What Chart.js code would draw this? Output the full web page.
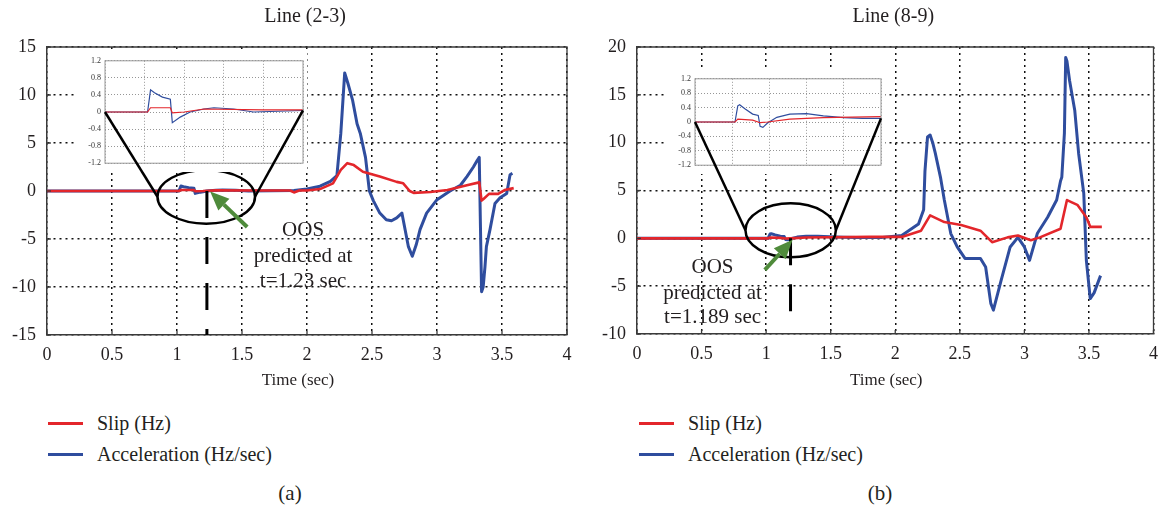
<!DOCTYPE html>
<html>
<head>
<meta charset="utf-8">
<title>Slip and acceleration</title>
<script src="https://cdn.jsdelivr.net/npm/chart.js@4.4.1/dist/chart.umd.min.js"></script>
<style>
  body { margin: 0; width: 1167px; height: 505px; background: #fff; position: relative; overflow: hidden;
         font-family: "Liberation Serif", "DejaVu Serif", serif; color: #231f20; }
  canvas { position: absolute; }
  .inset { background: #fff; z-index: 2; }
  .key { position: absolute; font-size: 20px; line-height: 20px; white-space: nowrap; }
  .key i { position: absolute; left: -49px; top: 9px; width: 35px; height: 3px; }
  .cap { position: absolute; top: 481px; width: 60px; font-size: 21px; line-height: 24px; text-align: center; }
</style>
</head>
<body>
<canvas id="chart-a" width="583" height="400" style="left:0;top:0"></canvas>
<canvas id="chart-b" width="584" height="400" style="left:583px;top:0"></canvas>
<canvas id="inset-a" class="inset" width="232" height="120" style="left:75px;top:52px"></canvas>
<canvas id="inset-b" class="inset" width="220" height="104" style="left:665px;top:70px"></canvas>

<div class="key" style="left:97px;top:413px"><i style="background:#e3262b"></i>Slip (Hz)</div>
<div class="key" style="left:97px;top:444px"><i style="background:#2f4d9e"></i>Acceleration (Hz/sec)</div>
<div class="key" style="left:688px;top:413px"><i style="background:#e3262b"></i>Slip (Hz)</div>
<div class="key" style="left:688px;top:444px"><i style="background:#2f4d9e"></i>Acceleration (Hz/sec)</div>
<div class="cap" style="left:260px">(a)</div>
<div class="cap" style="left:850px">(b)</div>

<script>
/*====================================
data
=========================================*/
// line (2-3)
const slipTimeA = [0, 1.0, 1.015, 1.03, 1.13, 1.14, 1.2, 1.3, 1.6, 1.87, 1.9, 1.94, 2.0, 2.1, 2.2, 2.26, 2.31, 2.36, 2.43, 2.56,
    2.69, 2.74, 2.79, 2.82, 2.95, 3.08, 3.23, 3.325, 3.343, 3.36, 3.4, 3.47, 3.52, 3.59];
const slipA = [0, 0, 0, 0.1, 0.1, -0.02, 0, 0.07, 0.05, 0.05, -0.15, 0.05, 0.05, 0.2, 0.8, 2.2, 2.9, 2.7, 2.0, 1.5,
    0.95, 0.8, 0, -0.2, -0.1, 0.1, 0.6, 0.9, -1.0, -0.8, -0.3, -0.3, 0.1, 0.3];
const accTimeA = [0, 1.0, 1.015, 1.03, 1.05, 1.09, 1.13, 1.14, 1.18, 1.23, 1.3, 1.35, 1.45, 1.55, 1.9, 2.0, 2.1, 2.18, 2.23, 2.26,
    2.29, 2.315, 2.35, 2.385, 2.41, 2.45, 2.48, 2.51, 2.56, 2.61, 2.65, 2.69, 2.73, 2.78, 2.81, 2.84, 2.87, 2.92, 3.0, 3.1,
    3.18, 3.23, 3.28, 3.31, 3.325, 3.343, 3.355, 3.369, 3.38, 3.408, 3.446, 3.485, 3.536, 3.562, 3.58];
const accA = [0, 0, 0, 0.52, 0.45, 0.35, 0.3, -0.25, -0.12, 0, 0.07, 0.1, 0.07, 0, 0.05, 0.2, 0.5, 1.0, 1.6, 6,
    12.3, 11.2, 9.5, 7, 6, 3.5, 0, -1, -2.3, -3, -3.1, -2.8, -2.3, -5.8, -6.8, -5.6, -4, -2.3, -0.9, 0,
    0.6, 1.5, 2.5, 3.2, 3.5, -10.5, -10, -7.9, -5.8, -4.0, -1.3, -0.7, -0.25, 1.7, 1.85];

// line (8-9)
const slipTimeB = [0, 1.0, 1.015, 1.03, 1.11, 1.15, 1.19, 1.31, 1.49, 1.8, 2.05, 2.2, 2.27, 2.38, 2.51, 2.66, 2.75, 2.87, 2.95, 3.05,
    3.12, 3.28, 3.33, 3.41, 3.48, 3.51, 3.6];
const slipB = [0, 0, 0, 0.08, 0.05, -0.02, 0, 0.08, 0.12, 0.15, 0.15, 0.8, 2.4, 1.7, 1.4, 0.8, -0.4, 0.1, 0.3, -0.2,
    0.1, 1.0, 4, 3.5, 2.2, 1.2, 1.2];
const accTimeB = [0, 1.0, 1.015, 1.03, 1.04, 1.07, 1.11, 1.14, 1.15, 1.165, 1.19, 1.24, 1.31, 1.4, 1.49, 1.6, 1.7, 1.9, 2.05, 2.18,
    2.22, 2.23, 2.25, 2.27, 2.29, 2.31, 2.35, 2.38, 2.43, 2.48, 2.54, 2.66, 2.7, 2.74, 2.76, 2.82, 2.89, 2.95, 3.0, 3.04,
    3.1, 3.18, 3.25, 3.28, 3.29, 3.31, 3.32, 3.33, 3.35, 3.39, 3.42, 3.46, 3.48, 3.51, 3.54, 3.59];
const accB = [0, 0, 0, 0.45, 0.48, 0.36, 0.22, 0.18, -0.12, -0.15, -0.03, 0.13, 0.22, 0.23, 0.17, 0.12, 0.1, 0.1, 0.3, 1.5,
    3, 7, 10.6, 10.8, 10, 8.9, 6.4, 4, 0.5, -0.9, -2.1, -2.1, -3, -6.8, -7.5, -4.4, -0.9, 0.1, -0.9, -2.3,
    0.5, 2.2, 4, 6, 6.4, 11, 18.9, 18.5, 16.5, 13.4, 8.9, 4.7, -2.3, -6.3, -5.7, -3.9];

const insetTicks = [-1.2, -0.8, -0.4, 0, 0.4, 0.8, 1.2];

/*====================================
styles + helpers
=========================================*/
const SERIF = '"Liberation Serif", "DejaVu Serif", serif';
const INK = '#231f20';
const RED = '#e3262b';
const BLUE = '#2f4d9e';
const GREEN = '#4f8b3b';

const pts = (t, v) => t.map((x, i) => ({ x: x, y: v[i] }));

// linear lookup of a series at time t
function valueAt(points, t) {
    for (let i = 1; i < points.length; i++) {
        if (points[i].x >= t) {
            const p = points[i - 1], q = points[i];
            return p.y + (q.y - p.y) * (t - p.x) / (q.x - p.x);
        }
    }
    return points[points.length - 1].y;
}

function toPage(chart, x, y) {
    const r = chart.canvas.getBoundingClientRect();
    return { x: r.left + x, y: r.top + y };
}

// the two lines joining the ring on the main plot to the zoomed inset
function zoomLinks(main, inset, ring) {
    const { x, y } = main.scales;
    const cx = x.getPixelForValue(ring.t), cy = y.getPixelForValue(ring.y);
    const rx = x.getPixelForValue(ring.t + ring.rt) - cx;
    const ia = inset.chartArea, iy = inset.scales.y;
    const endVal = valueAt(inset.data.datasets[1].data, inset.scales.x.max);
    return [
        [toPage(inset, ia.left, iy.getPixelForValue(0)), toPage(main, cx - rx, cy)],
        [toPage(inset, ia.right, iy.getPixelForValue(endVal)), toPage(main, cx + rx, cy)]
    ];
}

function drawLinks(chart, links) {
    const r = chart.canvas.getBoundingClientRect();
    const ctx = chart.ctx;
    ctx.save();
    ctx.strokeStyle = '#000';
    ctx.lineWidth = 2.5;
    links.forEach(([p, q]) => {
        ctx.beginPath();
        ctx.moveTo(p.x - r.left, p.y - r.top);
        ctx.lineTo(q.x - r.left, q.y - r.top);
        ctx.stroke();
    });
    ctx.restore();
}

function arrow(ctx, x0, y0, x1, y1) {
    const a = Math.atan2(y1 - y0, x1 - x0), head = 19, half = 8;
    const bx = x1 - head * Math.cos(a), by = y1 - head * Math.sin(a);
    ctx.strokeStyle = GREEN;
    ctx.fillStyle = GREEN;
    ctx.lineWidth = 4;
    ctx.beginPath();
    ctx.moveTo(x0, y0);
    ctx.lineTo(bx, by);
    ctx.stroke();
    ctx.beginPath();
    ctx.moveTo(x1, y1);
    ctx.lineTo(bx + half * Math.sin(a), by - half * Math.cos(a));
    ctx.lineTo(bx - half * Math.sin(a), by + half * Math.cos(a));
    ctx.closePath();
    ctx.fill();
}

// frame, title, axis title, OOS marker, ring, arrow and note
function figureMarks(cfg) {
    return {
        id: 'figureMarks',
        afterDraw(chart) {
            const { ctx, chartArea: a, scales: { x, y } } = chart;
            const px = t => x.getPixelForValue(t), py = v => y.getPixelForValue(v);
            const mid = (a.left + a.right) / 2;
            ctx.save();

            ctx.strokeStyle = '#3a3a3a';
            ctx.lineWidth = 1.3;
            ctx.beginPath();
            ctx.moveTo(a.left, a.top);
            ctx.lineTo(a.right, a.top);
            ctx.lineTo(a.right, a.bottom);
            ctx.stroke();
            x.ticks.forEach(tk => {
                ctx.beginPath();
                ctx.moveTo(px(tk.value), a.bottom);
                ctx.lineTo(px(tk.value), a.bottom - 4);
                ctx.stroke();
            });
            y.ticks.forEach(tk => {
                ctx.beginPath();
                ctx.moveTo(a.left, py(tk.value));
                ctx.lineTo(a.left + 4, py(tk.value));
                ctx.stroke();
            });

            ctx.fillStyle = INK;
            ctx.textAlign = 'center';
            ctx.textBaseline = 'middle';
            ctx.font = '20px ' + SERIF;
            ctx.fillText(cfg.title, mid - 2, 17);
            ctx.font = '17px ' + SERIF;
            ctx.fillText('Time (sec)', mid - 9, 381);

            // dashed marker at the predicted instant
            ctx.strokeStyle = '#000';
            ctx.lineWidth = 3;
            ctx.setLineDash([27, 19]);
            ctx.beginPath();
            ctx.moveTo(px(cfg.oosTime), py(0));
            ctx.lineTo(px(cfg.oosTime), py(cfg.markerEnd));
            ctx.stroke();
            ctx.setLineDash([]);

            const r = cfg.ring;
            ctx.lineWidth = 2.5;
            ctx.beginPath();
            ctx.ellipse(px(r.t), py(r.y), px(r.t + r.rt) - px(r.t), py(r.y) - py(r.y + r.ry), 0, 0, Math.PI * 2);
            ctx.stroke();

            arrow(ctx, px(cfg.arrowFrom.t), py(cfg.arrowFrom.y), px(cfg.arrowTo.t), py(cfg.arrowTo.y));

            ctx.fillStyle = INK;
            ctx.font = '21px ' + SERIF;
            cfg.note.forEach((line, i) => ctx.fillText(line, px(cfg.noteAt.t), py(cfg.noteAt.y[i])));
            ctx.restore();

            const inset = Chart.getChart(cfg.inset);
            if (inset) drawLinks(chart, zoomLinks(chart, inset, r));
        }
    };
}

function insetMarks(cfg) {
    return {
        id: 'insetMarks',
        afterDraw(chart) {
            const { ctx, chartArea: a } = chart;
            ctx.save();
            ctx.strokeStyle = '#9a9a9a';
            ctx.lineWidth = 1;
            ctx.strokeRect(a.left, a.top, a.right - a.left, a.bottom - a.top);
            ctx.restore();
            const main = Chart.getChart(cfg.main);
            if (main) drawLinks(chart, zoomLinks(main, chart, cfg.ring));
        }
    };
}

function seriesSets(slipT, slip, accT, acc, thin) {
    return [
        { label: 'Slip (Hz)', data: pts(slipT, slip), borderColor: RED, borderWidth: thin ? 1.2 : 2.6, pointRadius: 0 },
        { label: 'Acceleration (Hz/sec)', data: pts(accT, acc), borderColor: BLUE, borderWidth: thin ? 1.2 : 3, pointRadius: 0 }
    ];
}

function mainOptions(yMin, yMax, axisWidth, axisHeight, padRight) {
    const tickFont = { family: SERIF, size: 18 };
    const grid = { color: '#111', lineWidth: 1.5, drawTicks: false };
    const border = { color: '#3a3a3a', width: 1.5, dash: [2, 4] };
    return {
        responsive: false,
        animation: false,
        layout: { padding: { top: 47, right: padRight, bottom: 25, left: 0 } },
        plugins: { legend: { display: false }, tooltip: { enabled: false } },
        elements: { line: { tension: 0, borderJoinStyle: 'round' } },
        scales: {
            x: {
                type: 'linear', min: 0, max: 4,
                ticks: { stepSize: 0.5, padding: 9, color: INK, font: tickFont, autoSkip: false, maxRotation: 0,
                    callback: v => String(+v.toFixed(2)) },
                grid: grid,
                border: border,
                afterFit: s => { s.height = axisHeight; }
            },
            y: {
                min: yMin, max: yMax,
                ticks: { stepSize: 5, padding: 11, color: INK, font: tickFont, autoSkip: false },
                grid: grid,
                border: border,
                afterFit: s => { s.width = axisWidth; }
            }
        }
    };
}

function insetOptions() {
    return {
        responsive: false,
        animation: false,
        layout: { padding: { top: 6, right: 4, bottom: 5, left: 0 } },
        plugins: { legend: { display: false }, tooltip: { enabled: false } },
        elements: { line: { tension: 0 } },
        scales: {
            x: {
                type: 'linear', min: 0.8, max: 1.8,
                ticks: { display: false, stepSize: 0.2 },
                grid: { color: '#8a8a8a', lineWidth: 0.9, drawTicks: false },
                border: { display: false, dash: [1, 2] },
                afterFit: s => { s.height = 0; }
            },
            y: {
                min: insetTicks[0], max: insetTicks[insetTicks.length - 1],
                afterBuildTicks: s => { s.ticks = insetTicks.map(v => ({ value: v })); },
                ticks: { padding: 4, color: '#333', font: { family: SERIF, size: 8 },
                    callback: v => Math.abs(v) < 1e-9 ? '0' : v.toFixed(1) },
                grid: { color: '#8a8a8a', lineWidth: 0.9, drawTicks: false },
                border: { display: false, dash: [1, 2] },
                afterFit: s => { s.width = 30; }
            }
        }
    };
}

/*====================================
figure (a) - line (2-3)
=========================================*/
const ringA = { t: 1.225, y: -0.6, rt: 0.375, ry: 2.8 };

new Chart(document.getElementById('inset-a'), {
    type: 'line',
    data: { datasets: seriesSets(slipTimeA, slipA, accTimeA, accA, true) },
    options: insetOptions(),
    plugins: [insetMarks({ main: 'chart-a', ring: ringA })]
});

new Chart(document.getElementById('chart-a'), {
    type: 'line',
    data: { datasets: seriesSets(slipTimeA, slipA, accTimeA, accA, false) },
    options: mainOptions(-15, 15, 47, 40, 16),
    plugins: [figureMarks({
        title: 'Line (2-3)',
        inset: 'inset-a',
        oosTime: 1.23,
        markerEnd: -15,
        ring: ringA,
        arrowFrom: { t: 1.54, y: -3.75 },
        arrowTo: { t: 1.255, y: -0.05 },
        note: ['OOS', 'predicted at', 't=1.23 sec'],
        noteAt: { t: 1.97, y: [-4.1, -6.8, -9.4] }
    })]
});

/*====================================
figure (b) - line (8-9)
=========================================*/
const ringB = { t: 1.19, y: 0.84, rt: 0.35, ry: 2.82 };

new Chart(document.getElementById('inset-b'), {
    type: 'line',
    data: { datasets: seriesSets(slipTimeB, slipB, accTimeB, accB, true) },
    options: insetOptions(),
    plugins: [insetMarks({ main: 'chart-b', ring: ringB })]
});

new Chart(document.getElementById('chart-b'), {
    type: 'line',
    data: { datasets: seriesSets(slipTimeB, slipB, accTimeB, accB, false) },
    options: mainOptions(-10, 20, 54, 41, 10),
    plugins: [figureMarks({
        title: 'Line (8-9)',
        inset: 'inset-b',
        oosTime: 1.189,
        markerEnd: -8.2,
        ring: ringB,
        arrowFrom: { t: 0.99, y: -3.3 },
        arrowTo: { t: 1.205, y: -0.15 },
        note: ['OOS', 'predicted at', 't=1.189 sec'],
        noteAt: { t: 0.585, y: [-3.0, -5.75, -8.25] }
    })]
});

// insets were drawn before their main plots existed; redraw for the zoom lines
Chart.getChart('inset-a').update('none');
Chart.getChart('inset-b').update('none');
</script>
</body>
</html>
